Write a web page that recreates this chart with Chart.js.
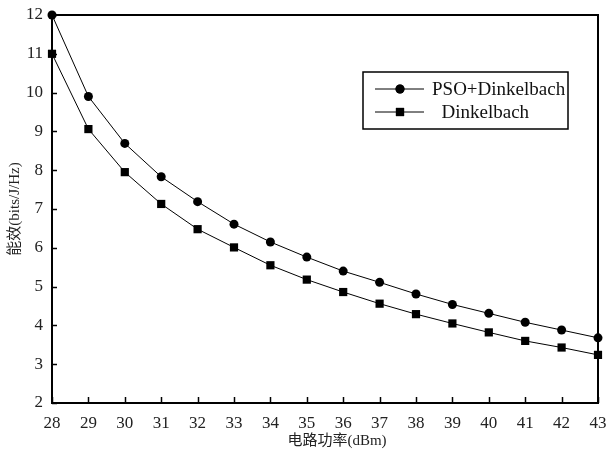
<!DOCTYPE html>
<html>
<head>
<meta charset="utf-8">
<script src="https://cdn.jsdelivr.net/npm/chart.js@4"></script>
<style>
html, body { margin: 0; padding: 0; background: #fff; }
#box { width: 609px; height: 455px; }
</style>
</head>
<body>
<div id="box"><canvas id="chart"></canvas></div>
<script>
const power_dbm = [28, 29, 30, 31, 32, 33, 34, 35, 36, 37, 38, 39, 40, 41, 42, 43];
const pso_values = [12.0, 9.90, 8.69, 7.83, 7.19, 6.61, 6.15, 5.76, 5.40, 5.11, 4.81, 4.54, 4.31, 4.08, 3.88, 3.68];
const dinkel_values = [11.0, 9.06, 7.95, 7.13, 6.48, 6.01, 5.55, 5.18, 4.86, 4.56, 4.29, 4.05, 3.82, 3.60, 3.43, 3.24];
const series_labels = ['PSO+Dinkelbach', '  Dinkelbach'];
const x_title = '电路功率(dBm)';
const y_title = '能效(bits/J/Hz)';

const serif = "'Liberation Serif', 'Noto Sans CJK SC', serif";

// frame + inward ticks, drawn under the lines
const frame_plugin = {
    id: 'frame',
    beforeDatasetsDraw(chart) {
        const ctx = chart.ctx;
        const area = chart.chartArea;
        const xs = chart.scales.x;
        const ys = chart.scales.y;
        ctx.save();
        ctx.strokeStyle = '#000';
        ctx.lineWidth = 1.5;
        xs.ticks.forEach(t => {
            const px = Math.round(xs.getPixelForValue(t.value)) + 0.5;
            ctx.beginPath();
            ctx.moveTo(px, area.bottom);
            ctx.lineTo(px, area.bottom - 6);
            ctx.stroke();
        });
        ys.ticks.forEach(t => {
            const py = Math.round(ys.getPixelForValue(t.value)) + 0.5;
            ctx.beginPath();
            ctx.moveTo(area.left, py);
            ctx.lineTo(area.left + 5, py);
            ctx.stroke();
        });
        ctx.lineWidth = 2;
        ctx.strokeRect(area.left, area.top, area.right - area.left, area.bottom - area.top);

        // axis titles
        ctx.fillStyle = '#222';
        ctx.font = '15px ' + serif;
        ctx.textAlign = 'center';
        ctx.textBaseline = 'middle';
        ctx.fillText(x_title, 337, 441);
        ctx.translate(15, (area.top + area.bottom) / 2);
        ctx.rotate(-Math.PI / 2);
        ctx.fillText(y_title, 0, 0);
        ctx.restore();
    }
};

const legend_plugin = {
    id: 'boxLegend',
    afterDraw(chart) {
        const ctx = chart.ctx;
        const box = { x: 363, y: 72, w: 205, h: 57 };
        ctx.save();
        ctx.strokeStyle = '#000';
        ctx.lineWidth = 1.5;
        ctx.strokeRect(box.x, box.y, box.w, box.h);
        ctx.font = '19px ' + serif;
        ctx.textAlign = 'left';
        ctx.textBaseline = 'middle';
        chart.data.datasets.forEach((ds, i) => {
            const y = box.y + 17 + i * 23;
            ctx.strokeStyle = '#000';
            ctx.lineWidth = 1;
            ctx.beginPath();
            ctx.moveTo(box.x + 12, y);
            ctx.lineTo(box.x + 61, y);
            ctx.stroke();
            Chart.helpers.drawPoint(ctx, {
                pointStyle: ds.pointStyle,
                radius: ds.pointRadius,
                borderWidth: 0
            }, box.x + 37, y);
            ctx.fillStyle = '#000';
            ctx.fill();
            ctx.fillStyle = '#111';
            ctx.fillText(ds.label, box.x + 69, y + 1);
        });
        ctx.restore();
    }
};

const chart = new Chart(document.getElementById('chart'), {
    type: 'line',
    data: {
        datasets: [
            {
                label: series_labels[0],
                data: power_dbm.map((p, i) => ({ x: p, y: pso_values[i] })),
                borderColor: '#000',
                backgroundColor: '#000',
                borderWidth: 1,
                pointStyle: 'circle',
                pointRadius: 4.5,
                pointBorderWidth: 0,
                clip: false
            },
            {
                label: series_labels[1],
                data: power_dbm.map((p, i) => ({ x: p, y: dinkel_values[i] })),
                borderColor: '#000',
                backgroundColor: '#000',
                borderWidth: 1,
                pointStyle: 'rect',
                pointRadius: 5.8,
                pointBorderWidth: 0,
                clip: false
            }
        ]
    },
    options: {
        responsive: true,
        maintainAspectRatio: false,
        animation: false,
        layout: {
            padding: { left: 0, top: 15, right: 11, bottom: 0 }
        },
        scales: {
            x: {
                type: 'linear',
                min: 28,
                max: 43,
                grid: { display: false },
                border: { display: false },
                ticks: {
                    stepSize: 1,
                    color: '#222',
                    padding: 2,
                    font: { family: serif, size: 17 }
                },
                afterFit(scale) { scale.height = 52; }
            },
            y: {
                min: 2,
                max: 12,
                grid: { display: false },
                border: { display: false },
                ticks: {
                    stepSize: 1,
                    color: '#222',
                    padding: 1,
                    font: { family: serif, size: 17 }
                },
                afterFit(scale) { scale.width = 52; }
            }
        },
        plugins: {
            legend: { display: false },
            tooltip: { enabled: false }
        }
    },
    plugins: [frame_plugin, legend_plugin]
});
</script>
</body>
</html>
